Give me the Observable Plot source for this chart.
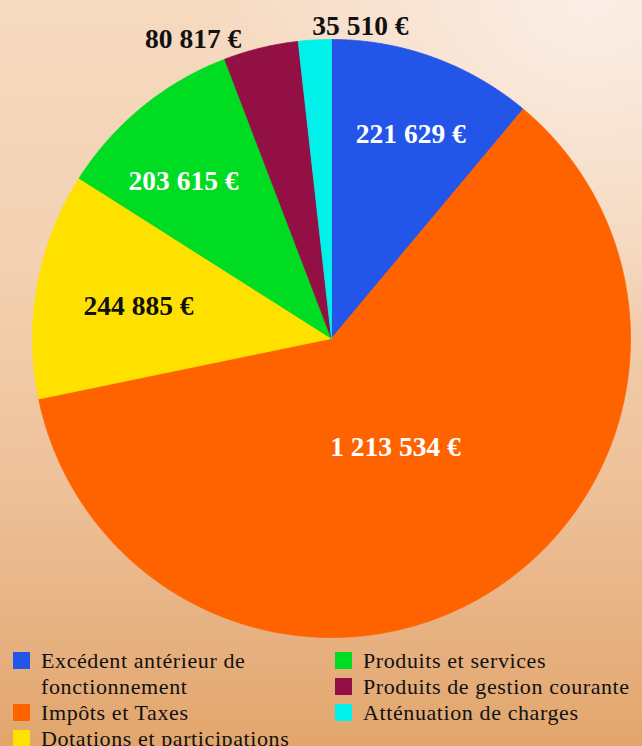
<!DOCTYPE html>
<html>
<head>
<meta charset="utf-8">
<script src="https://cdn.jsdelivr.net/npm/d3@7"></script>
<script src="https://cdn.jsdelivr.net/npm/@observablehq/plot@0.6"></script>
<style>
html, body { margin: 0; padding: 0; }
body {
  width: 642px; height: 746px; overflow: hidden;
  background:
    radial-gradient(ellipse 60% 45% at 92% 0%, rgba(251,239,232,0.95) 0%, rgba(251,239,232,0) 100%),
    linear-gradient(to bottom, #f6dac0 0%, #f3d1b2 35%, #eec199 65%, #e7b181 85%, #e2a66c 100%);
}
#chart svg { display: block; background: transparent; }
.legend {
  display: flex; padding: 2px 0 0 13px;
  font-family: "Liberation Serif", "Times New Roman", serif;
  font-size: 22px; line-height: 26px; color: #111;
}
.col1 { width: 322px; }
.col2 { width: 307px; }
.item { display: flex; align-items: flex-start; }
.sw { width: 17px; height: 17px; margin-top: 4px; margin-right: 11px; flex: none; }
.txt { max-width: 285px; letter-spacing: 0.6px; }
</style>
</head>
<body>
<div id="chart"></div>
<div class="legend" id="legend"></div>
<script>
// ---- data ----
const categories = [
  "Excédent antérieur de fonctionnement",
  "Impôts et Taxes",
  "Dotations et participations",
  "Produits et services",
  "Produits de gestion courante",
  "Atténuation de charges"
];
const values = [221629, 1213534, 244885, 203615, 80817, 35510];

// ---- styles / layout (not data) ----
const colors = ["#2356e8", "#ff6300", "#ffe100", "#00dc22", "#931045", "#00f2ea"];
const labelInk = ["#ffffff", "#ffffff", "#111111", "#ffffff", "#111111", "#111111"];
// label placement: angle shift from mid-angle (degrees) and radius factor
const labelLayout = [
  {shift: 1.3, r: 0.732},
  {shift: 0.5, r: 0.423},
  {shift: -0.9, r: 0.654},
  {shift: -4.0, r: 0.722},
  {shift: -11.1, r: 1.104},
  {shift: 8.5, r: 1.048}
];

const fmt = v => d3.format(",")(v).replace(/,/g, "\u00a0") + "\u00a0€";

const rows = categories.map((c, i) => ({cat: c, value: values[i], i}));
const arcs = d3.pie().sort(null).value(d => d.value)(rows);

const pts = [];
for (const a of arcs) {
  const c = a.data.cat;
  pts.push({cat: c, x: 0, y: 0});
  const n = Math.max(4, Math.ceil((a.endAngle - a.startAngle) / (Math.PI / 720)));
  for (let k = 0; k <= n; k++) {
    const t = a.startAngle + (a.endAngle - a.startAngle) * k / n;
    pts.push({cat: c, x: Math.sin(t), y: Math.cos(t)});
  }
  pts.push({cat: c, x: 0, y: 0});
}

const labels = arcs.map(a => {
  const i = a.data.i;
  const L = labelLayout[i];
  const t = (a.startAngle + a.endAngle) / 2 + L.shift * Math.PI / 180;
  return {cat: a.data.cat, text: fmt(a.data.value), x: L.r * Math.sin(t), y: L.r * Math.cos(t), ink: labelInk[i]};
});

const chart = Plot.plot({
  width: 642,
  height: 646,
  marginLeft: 32,
  marginRight: 12,
  marginTop: 39,
  marginBottom: 9,
  x: {domain: [-1, 1], axis: null},
  y: {domain: [-1, 1], axis: null},
  color: {domain: categories, range: colors},
  style: {background: "transparent", overflow: "visible"},
  marks: [
    Plot.line(pts, {x: "x", y: "y", z: "cat", fill: "cat", stroke: "cat", strokeWidth: 0.8, curve: "linear"}),
    Plot.text(labels.filter(d => d.ink === "#ffffff"), {
      x: "x", y: "y", text: "text", fill: "#ffffff",
      fontSize: 27.5, fontWeight: "bold", fontFamily: "Liberation Serif, serif"
    }),
    Plot.text(labels.filter(d => d.ink !== "#ffffff"), {
      x: "x", y: "y", text: "text", fill: "#111111",
      fontSize: 27.5, fontWeight: "bold", fontFamily: "Liberation Serif, serif"
    })
  ]
});
document.getElementById("chart").appendChild(chart);

// ---- legend (HTML, below the SVG) ----
const legend = document.getElementById("legend");
const cols = [[0, 1, 2], [3, 4, 5]];
cols.forEach((idxs, ci) => {
  const col = document.createElement("div");
  col.className = ci === 0 ? "col1" : "col2";
  idxs.forEach(i => {
    const item = document.createElement("div");
    item.className = "item";
    const sw = document.createElement("span");
    sw.className = "sw";
    sw.style.background = colors[i];
    const tx = document.createElement("span");
    tx.className = "txt";
    tx.textContent = categories[i];
    item.appendChild(sw);
    item.appendChild(tx);
    col.appendChild(item);
  });
  legend.appendChild(col);
});
</script>
</body>
</html>
